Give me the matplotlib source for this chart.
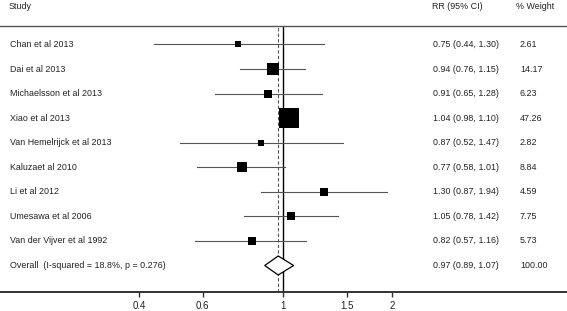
import numpy as np
import matplotlib
matplotlib.use('Agg')
import matplotlib.pyplot as plt
import matplotlib.transforms as mtransforms

plt.rcParams['font.family'] = ['Liberation Sans', 'DejaVu Sans']

studies = ['Chan et al 2013', 'Dai et al 2013', 'Michaelsson et al 2013', 'Xiao et al 2013',
           'Van Hemelrijck et al 2013', 'Kaluzaet al 2010', 'Li et al 2012',
           'Umesawa et al 2006', 'Van der Vijver et al 1992']
rr = [0.75, 0.94, 0.91, 1.04, 0.87, 0.77, 1.30, 1.05, 0.82]
lo = [0.44, 0.76, 0.65, 0.98, 0.52, 0.58, 0.87, 0.78, 0.57]
hi = [1.30, 1.15, 1.28, 1.10, 1.47, 1.01, 1.94, 1.42, 1.16]
weight = [2.61, 14.17, 6.23, 47.26, 2.82, 8.84, 4.59, 7.75, 5.73]
rr_text = ['0.75 (0.44, 1.30)', '0.94 (0.76, 1.15)', '0.91 (0.65, 1.28)', '1.04 (0.98, 1.10)',
           '0.87 (0.52, 1.47)', '0.77 (0.58, 1.01)', '1.30 (0.87, 1.94)', '1.05 (0.78, 1.42)',
           '0.82 (0.57, 1.16)']
w_text = ['2.61', '14.17', '6.23', '47.26', '2.82', '8.84', '4.59', '7.75', '5.73']

overall_label = 'Overall  (I-squared = 18.8%, p = 0.276)'
overall = 0.97
overall_lo = 0.89
overall_hi = 1.07
overall_rr_text = '0.97 (0.89, 1.07)'
overall_w_text = '100.00'

xticks = [0.4, 0.6, 1, 1.5, 2]
xticklabels = ['0.4', '0.6', '1', '1.5', '2']

W, H = 567, 311
fs = 6.4
tc = '#222222'
step = 24.56   # px between rows

fig = plt.figure(figsize=(W / 100, H / 100), dpi=100, facecolor='w')
ax = fig.add_axes([0, 1 - 292 / H, 1, (292 - 25.5) / H])
ax.set_xscale('log')
ax.set_xlim(np.exp(-283 / 157), np.exp((W - 283) / 157))
ax.set_ylim(9 + 26.5 / step, -19 / step)

ax.spines['left'].set_visible(False)
ax.spines['right'].set_visible(False)
ax.spines['top'].set_color('#555555')
ax.spines['top'].set_linewidth(1.0)
ax.spines['bottom'].set_color('#333333')
ax.spines['bottom'].set_linewidth(1.4)
ax.set_yticks([])
ax.set_xticks(xticks)
ax.set_xticklabels(xticklabels)
ax.xaxis.set_minor_locator(matplotlib.ticker.NullLocator())
ax.tick_params(axis='x', direction='out', length=3.8, width=1, color='#333333',
               labelsize=7, labelcolor=tc, pad=2.5)

ax.axvline(1, color='black', lw=1.0, zorder=1)
ax.axvline(overall, color='#555555', lw=0.8, ls=(0, (3, 2)), zorder=1)

rows = np.arange(len(studies))
for i in rows:
    ax.plot([lo[i], hi[i]], [i, i], color='#555555', lw=0.8, zorder=2)
    side = 1.3 + 2.72 * np.sqrt(weight[i])
    ax.plot(rr[i], i, marker='s', color='black', markersize=side * 0.72, mew=0, zorder=3)

oy = len(studies)
h = 9.5 / step
ax.fill([overall_lo, overall, overall_hi, overall], [oy, oy - h, oy, oy + h],
        facecolor='white', edgecolor='black', lw=0.9, zorder=4)

trans = mtransforms.blended_transform_factory(ax.transAxes, ax.transData)
for i in rows:
    ax.text(10 / W, i, studies[i], transform=trans, va='center', ha='left', fontsize=fs, color=tc)
    ax.text(433 / W, i, rr_text[i], transform=trans, va='center', ha='left', fontsize=fs, color=tc)
    ax.text(520 / W, i, w_text[i], transform=trans, va='center', ha='left', fontsize=fs, color=tc)
ax.text(10 / W, oy, overall_label, transform=trans, va='center', ha='left', fontsize=fs, color=tc)
ax.text(433 / W, oy, overall_rr_text, transform=trans, va='center', ha='left', fontsize=fs, color=tc)
ax.text(520 / W, oy, overall_w_text, transform=trans, va='center', ha='left', fontsize=fs, color=tc)

fig.text(9 / W, 1 - 6.5 / H, 'Study', va='center', ha='left', fontsize=fs, color=tc)
fig.text(432 / W, 1 - 6.5 / H, 'RR (95% CI)', va='center', ha='left', fontsize=fs, color=tc)
fig.text(516 / W, 1 - 6.5 / H, '% Weight', va='center', ha='left', fontsize=fs, color=tc)

fig.savefig('out.png', dpi=100, facecolor='w')
